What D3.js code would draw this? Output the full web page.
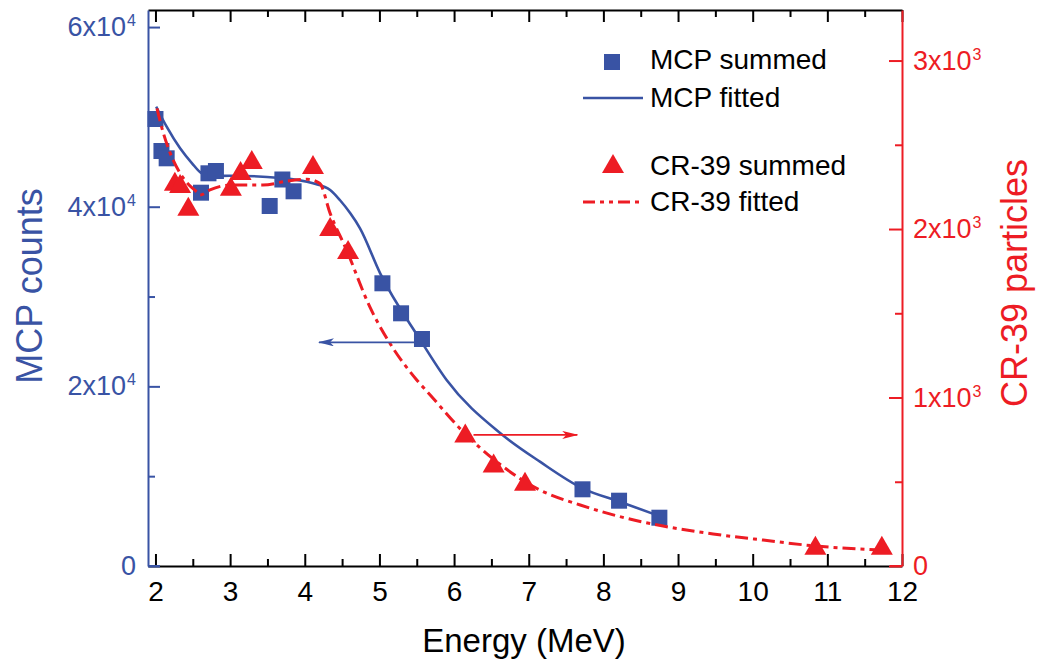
<!DOCTYPE html>
<html>
<head>
<meta charset="utf-8">
<script src="https://cdn.jsdelivr.net/npm/d3@7"></script>
<style>
  body { margin: 0; background: #fff; }
  svg { font-family: "Liberation Sans", Arial, sans-serif; }
</style>
</head>
<body>
<svg width="1039" height="667"></svg>
<script>
const svg = d3.select("svg");
const blue = "#3953a4";
const red = "#ed1c24";

// measured points
const mcpEnergy = [2.0, 2.08, 2.15, 2.61, 2.71, 2.81, 3.53, 3.7, 3.85, 5.04, 5.29, 5.57, 7.72, 8.21, 8.75];
const mcpCounts = [49765, 46202, 45389, 41560, 43720, 43975, 40080, 43030, 41716, 31474, 28133, 25272, 8539, 7270, 5377];

const crEnergy = [2.26, 2.33, 2.44, 3.01, 3.14, 3.29, 4.11, 4.34, 4.58, 6.15, 6.53, 6.95, 10.84, 11.73];
const crCounts = [2281, 2267, 2132, 2251, 2344, 2410, 2380, 2012, 1875, 787, 609, 500, 120, 120];

// fitted curves
const mcpFitEnergy = [2.01, 2.15, 2.33, 2.49, 2.62, 2.77, 3.0, 3.67, 4.11, 4.34, 4.47, 4.61, 4.74, 5.01, 5.54, 5.9, 6.62, 7.15, 7.72, 8.22, 8.71];
const mcpFitCounts = [51134, 48908, 46503, 44833, 43720, 43419, 43453, 43197, 42606, 41860, 40747, 39267, 37597, 32586, 25270, 20707, 14773, 11613, 8649, 7157, 5678];

const crFitEnergy = [2.02, 2.1, 2.19, 2.33, 2.55, 2.6, 2.73, 3.0, 3.44, 3.8, 4.03, 4.2, 4.34, 4.56, 4.87, 5.14, 5.5, 5.68, 6.12, 6.57, 7.15, 7.69, 8.22, 8.8, 9.47, 10.14, 10.81, 11.71];
const crFitCounts = [2716, 2578, 2459, 2331, 2221, 2202, 2232, 2261, 2261, 2287, 2295, 2271, 2093, 1875, 1539, 1322, 1104, 1015, 797, 619, 451, 362, 293, 237, 190, 154, 120, 95];

const xTicks = [2, 3, 4, 5, 6, 7, 8, 9, 10, 11, 12];
const xMinor = [2.5, 3.5, 4.5, 5.5, 6.5, 7.5, 8.5, 9.5, 10.5, 11.5];
const leftTicks = [0, 20000, 40000, 60000];
const leftMinor = [10000, 30000, 50000];
const rightTicks = [0, 1000, 2000, 3000];
const rightMinor = [500, 1500, 2500];

const legendItems = ["MCP summed", "MCP fitted", "CR-39 summed", "CR-39 fitted"];

const plotL = 148, plotR = 902, plotT = 10, plotB = 566;

const x = d3.scaleLinear().domain([1.9, 12]).range([plotL, plotR]);
const yL = d3.scaleLinear().domain([0, 61900]).range([plotB, plotT]);
const yR = d3.scaleLinear().domain([0, 3300]).range([plotB, plotT]);

function sciLabel(sel, d) {
  sel.text(null);
  if (d === 0) { sel.text("0"); return; }
  const e = Math.floor(Math.log10(d));
  const m = Math.round(d / Math.pow(10, e));
  sel.append("tspan").text(m + "x10");
  sel.append("tspan").attr("dy", -10).attr("dx", 1).attr("font-size", 16).text(e);
}

// bottom axis
const gB = svg.append("g").attr("transform", `translate(0,${plotB})`)
  .call(d3.axisBottom(x).tickValues(xTicks).tickSizeInner(-12).tickSizeOuter(0).tickPadding(15).tickFormat(d3.format("d")));
gB.selectAll("text").attr("font-size", 28).attr("fill", "#000");
svg.append("g").attr("transform", `translate(0,${plotB})`)
  .call(d3.axisBottom(x).tickValues(xMinor).tickSizeInner(-7).tickSizeOuter(0).tickFormat(""))
  .select(".domain").remove();

// top axis
svg.append("g").attr("transform", `translate(0,${plotT})`)
  .call(d3.axisTop(x).tickValues(xTicks).tickSizeInner(-12).tickSizeOuter(0).tickFormat(""));
svg.append("g").attr("transform", `translate(0,${plotT})`)
  .call(d3.axisTop(x).tickValues(xMinor).tickSizeInner(-7).tickSizeOuter(0).tickFormat(""))
  .select(".domain").remove();
svg.selectAll(".domain, .tick line").attr("stroke", "#000").attr("stroke-width", 2);

// left axis
const gL = svg.append("g").attr("transform", `translate(${plotL},0)`)
  .call(d3.axisLeft(yL).tickValues(leftTicks).tickSizeInner(-12).tickSizeOuter(0).tickPadding(12));
gL.append("path").attr("d", `M0,${plotB}H12`).attr("stroke", blue).attr("stroke-width", 2);
svg.append("g").attr("class", "minorL").attr("transform", `translate(${plotL},0)`)
  .call(d3.axisLeft(yL).tickValues(leftMinor).tickSizeInner(-7).tickSizeOuter(0).tickFormat(""))
  .select(".domain").remove();
gL.selectAll(".tick text").each(function (d) { sciLabel(d3.select(this), d); });
gL.selectAll(".tick text").attr("font-size", 27).attr("fill", blue);
gL.selectAll(".domain, .tick line").attr("stroke", blue).attr("stroke-width", 2);
svg.selectAll(".minorL .tick line").attr("stroke", blue).attr("stroke-width", 2);

// right axis
const gR = svg.append("g").attr("transform", `translate(${plotR},0)`)
  .call(d3.axisRight(yR).tickValues(rightTicks).tickSizeInner(-13).tickSizeOuter(0).tickPadding(11));
gR.append("path").attr("d", `M0,${plotB}H-12`).attr("stroke", red).attr("stroke-width", 2);
svg.append("g").attr("class", "minorR").attr("transform", `translate(${plotR},0)`)
  .call(d3.axisRight(yR).tickValues(rightMinor).tickSizeInner(-7).tickSizeOuter(0).tickFormat(""))
  .select(".domain").remove();
gR.selectAll(".tick text").each(function (d) { sciLabel(d3.select(this), d); });
gR.selectAll(".tick text").attr("font-size", 27).attr("fill", red);
gR.selectAll(".domain, .tick line").attr("stroke", red).attr("stroke-width", 2);
svg.selectAll(".minorR .tick line").attr("stroke", red).attr("stroke-width", 2);

svg.selectAll("g").attr("font-family", "Liberation Sans, Arial, sans-serif");

// axis titles
svg.append("text").attr("transform", `translate(42,286) rotate(-90)`)
  .attr("text-anchor", "middle").attr("font-size", 36).attr("fill", blue).text("MCP counts");
svg.append("text").attr("transform", `translate(1027,283) rotate(-90)`)
  .attr("text-anchor", "middle").attr("font-size", 36).attr("fill", red).text("CR-39 particles");
svg.append("text").attr("x", 524).attr("y", 652)
  .attr("text-anchor", "middle").attr("font-size", 33).attr("fill", "#000").text("Energy (MeV)");

// fitted lines and markers
const line = (ys) => d3.line().x((d) => x(d[0])).y((d) => ys(d[1])).curve(d3.curveMonotoneX);

svg.append("path").datum(d3.zip(mcpFitEnergy, mcpFitCounts))
  .attr("d", line(yL)).attr("fill", "none").attr("stroke", blue).attr("stroke-width", 2.6);

svg.append("g").selectAll("rect").data(d3.zip(mcpEnergy, mcpCounts)).join("rect")
  .attr("x", (d) => x(d[0]) - 8).attr("y", (d) => yL(d[1]) - 8)
  .attr("width", 16).attr("height", 16).attr("fill", blue);

svg.append("path").datum(d3.zip(crFitEnergy, crFitCounts))
  .attr("d", line(yR)).attr("fill", "none").attr("stroke", red).attr("stroke-width", 3)
  .attr("stroke-dasharray", "13,5,4,5");

const tri = (cx, cy) => `M${cx},${cy - 10}L${cx + 11},${cy + 9}L${cx - 11},${cy + 9}Z`;
svg.append("g").selectAll("path").data(d3.zip(crEnergy, crCounts)).join("path")
  .attr("d", (d) => tri(x(d[0]), yR(d[1]))).attr("fill", red);

// direction arrows
const defs = svg.append("defs");
[["headB", blue], ["headR", red]].forEach(([id, c]) => {
  defs.append("marker").attr("id", id).attr("viewBox", "0 0 16 8").attr("refX", 15).attr("refY", 4)
    .attr("markerWidth", 16).attr("markerHeight", 8).attr("markerUnits", "userSpaceOnUse").attr("orient", "auto")
    .append("path").attr("d", "M0,0L16,4L0,8L4,4Z").attr("fill", c);
});
svg.append("line").attr("x1", x(5.52)).attr("x2", x(4.19)).attr("y1", yL(24900)).attr("y2", yL(24900))
  .attr("stroke", blue).attr("stroke-width", 1.6).attr("marker-end", "url(#headB)");
svg.append("line").attr("x1", x(6.26)).attr("x2", x(7.65)).attr("y1", yR(778)).attr("y2", yR(778))
  .attr("stroke", red).attr("stroke-width", 1.6).attr("marker-end", "url(#headR)");

// legend
const lg = svg.append("g").attr("font-size", 28).attr("fill", "#000");
lg.append("rect").attr("x", 604).attr("y", 54).attr("width", 16).attr("height", 16).attr("fill", blue);
lg.append("line").attr("x1", 583).attr("x2", 643).attr("y1", 98).attr("y2", 98).attr("stroke", blue).attr("stroke-width", 2.6);
lg.append("path").attr("d", tri(613, 164)).attr("fill", red);
lg.append("line").attr("x1", 583).attr("x2", 641).attr("y1", 202).attr("y2", 202).attr("stroke", red)
  .attr("stroke-width", 3).attr("stroke-dasharray", "12,5,4,5,4,5");
[69, 107, 175, 211].forEach((yy, i) => {
  lg.append("text").attr("x", 650).attr("y", yy).text(legendItems[i]);
});
</script>
</body>
</html>
